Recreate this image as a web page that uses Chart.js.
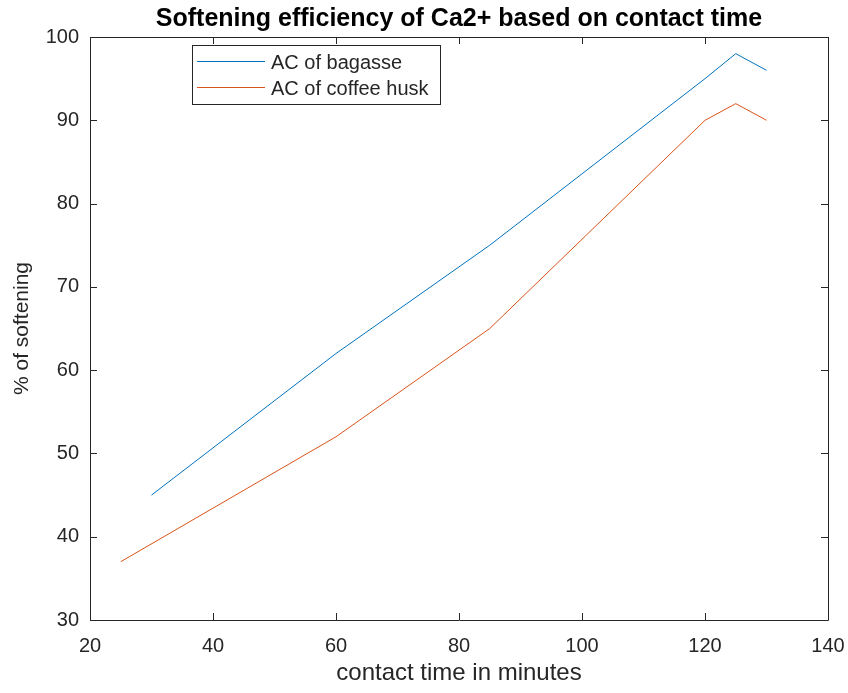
<!DOCTYPE html>
<html>
<head>
<meta charset="utf-8">
<script src="https://cdn.jsdelivr.net/npm/chart.js@4.4.0/dist/chart.umd.min.js"></script>
<style>
  html, body { margin: 0; padding: 0; background: #fff; }
  #wrap { width: 848px; height: 693px; }
</style>
</head>
<body>
<div id="wrap"><canvas id="softChart" width="848" height="693"></canvas></div>
<script>
// data
const bagasseTime = [30, 60, 85, 120, 125, 130];
const bagasseSoft = [45, 62, 75, 95, 98, 96];
const huskTime = [25, 60, 85, 120, 125, 130];
const huskSoft = [37, 52, 65, 90, 92, 90];
const seriesNames = ["AC of bagasse", "AC of coffee husk"];
const seriesColors = ["#0072BD", "#D95319"];

const axisColor = "#262626";
const fontFam = "'Liberation Sans', Arial, Helvetica, sans-serif";

function toPoints(xs, ys) {
  return xs.map((x, i) => ({ x: x, y: ys[i] }));
}

// matlab style box: inward ticks on all four sides plus a framed legend
const matlabBox = {
  id: "matlabBox",
  afterDraw(chart) {
    const ctx = chart.ctx;
    const a = chart.chartArea;
    const xs = chart.scales.x;
    const ys = chart.scales.y;
    const tl = 7;
    ctx.save();
    ctx.strokeStyle = axisColor;
    ctx.lineWidth = 1;
    ctx.beginPath();
    ctx.rect(Math.round(a.left) + 0.5, Math.round(a.top) + 0.5,
      Math.round(a.right - a.left), Math.round(a.bottom - a.top));
    xs.ticks.forEach((t) => {
      const px = Math.round(xs.getPixelForValue(t.value)) + 0.5;
      ctx.moveTo(px, a.bottom);
      ctx.lineTo(px, a.bottom - tl);
      ctx.moveTo(px, a.top);
      ctx.lineTo(px, a.top + tl);
    });
    ys.ticks.forEach((t) => {
      const py = Math.round(ys.getPixelForValue(t.value)) + 0.5;
      ctx.moveTo(a.left, py);
      ctx.lineTo(a.left + tl, py);
      ctx.moveTo(a.right, py);
      ctx.lineTo(a.right - tl, py);
    });
    ctx.stroke();

    // legend
    const lx = 192, ly = 45, lw = 248, lh = 59;
    ctx.fillStyle = "#fff";
    ctx.fillRect(lx, ly, lw, lh);
    ctx.strokeStyle = axisColor;
    ctx.strokeRect(lx + 0.5, ly + 0.5, lw, lh);
    ctx.font = "20px " + fontFam;
    ctx.textBaseline = "middle";
    ctx.textAlign = "left";
    chart.data.datasets.forEach((ds, i) => {
      const yy = ly + 16 + i * 26;
      ctx.strokeStyle = ds.borderColor;
      ctx.lineWidth = 1.2;
      ctx.beginPath();
      ctx.moveTo(lx + 5, yy + 0.5);
      ctx.lineTo(lx + 73, yy + 0.5);
      ctx.stroke();
      ctx.fillStyle = axisColor;
      ctx.fillText(ds.label, lx + 79, yy + 2);
    });
    ctx.restore();
  },
};

const ctx = document.getElementById("softChart").getContext("2d");
new Chart(ctx, {
  type: "line",
  data: {
    datasets: [
      {
        label: seriesNames[0],
        data: toPoints(bagasseTime, bagasseSoft),
        borderColor: seriesColors[0],
        borderWidth: 1,
        pointRadius: 0,
        tension: 0,
      },
      {
        label: seriesNames[1],
        data: toPoints(huskTime, huskSoft),
        borderColor: seriesColors[1],
        borderWidth: 1,
        pointRadius: 0,
        tension: 0,
      },
    ],
  },
  plugins: [matlabBox],
  options: {
    responsive: false,
    animation: false,
    layout: { padding: 0 },
    plugins: {
      legend: { display: false },
      tooltip: { enabled: false },
      title: {
        display: true,
        fullSize: false,
        text: "Softening efficiency of Ca2+ based on contact time",
        color: "#000",
        font: { family: fontFam, size: 25, weight: "bold" },
        padding: { top: 4, bottom: 3 },
      },
    },
    scales: {
      x: {
        type: "linear",
        min: 20,
        max: 140,
        grid: { display: false },
        border: { display: false },
        ticks: {
          stepSize: 20,
          color: axisColor,
          padding: 6,
          maxRotation: 0,
          font: { family: fontFam, size: 20 },
        },
        title: {
          display: true,
          text: "contact time in minutes",
          color: axisColor,
          font: { family: fontFam, size: 24 },
          padding: { top: 0, bottom: 5 },
        },
        afterFit(scale) {
          scale.height = 73;
          scale.paddingRight = 20;
        },
      },
      y: {
        min: 30,
        max: 100,
        grid: { display: false },
        border: { display: false },
        ticks: {
          stepSize: 10,
          color: axisColor,
          padding: 3,
          font: { family: fontFam, size: 20 },
        },
        title: {
          display: true,
          text: "% of softening",
          color: axisColor,
          font: { family: fontFam, size: 21 },
          padding: { top: 10, bottom: 0 },
        },
        afterFit(scale) {
          scale.width = 90;
        },
      },
    },
  },
});
</script>
</body>
</html>
